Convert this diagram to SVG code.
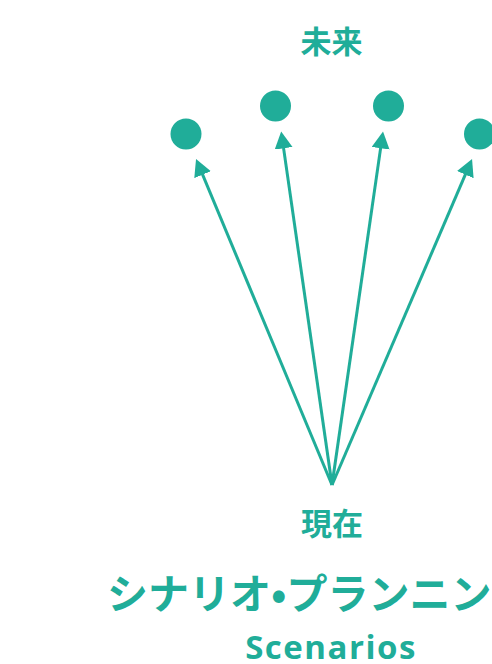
<svg xmlns="http://www.w3.org/2000/svg" width="492" height="664" viewBox="0 0 492 664">
  <style>
    .node { fill: #20ad99; }
    .edge { stroke: #20ad99; stroke-width: 3; fill: none; }
    .jp { fill: #20ad99; font-family: "Noto Sans CJK JP", "Noto Sans CJK SC", sans-serif; }
    .en { fill: #20ad99; font-family: "Open Sans", "Liberation Sans", sans-serif; font-weight: 700; }
  </style>
  <defs>
    <marker id="arrow" markerUnits="userSpaceOnUse" markerWidth="18" markerHeight="19" refX="7" refY="9" orient="auto">
      <path d="M0,0 L17,9 L0,18 Z" fill="#20ad99"/>
    </marker>
  </defs>
  <rect width="492" height="664" fill="#ffffff"/>
  <g id="connectors">
    <line class="edge" x1="332" y1="485" x2="199.9" y2="168.2" marker-end="url(#arrow)"/>
    <line class="edge" x1="332" y1="485" x2="282.6" y2="141.4" marker-end="url(#arrow)"/>
    <line class="edge" x1="332" y1="485" x2="381.6" y2="141.4" marker-end="url(#arrow)"/>
    <line class="edge" x1="332" y1="485" x2="468.1" y2="168.2" marker-end="url(#arrow)"/>
  </g>
  <g id="future1"><circle class="node" cx="186" cy="134" r="15.5"/></g>
  <g id="future2"><circle class="node" cx="275.5" cy="106" r="15.5"/></g>
  <g id="future3"><circle class="node" cx="388.5" cy="106" r="15.5"/></g>
  <g id="future4"><circle class="node" cx="479.5" cy="134" r="15.5"/></g>
  <g id="label-future"><text class="jp" x="331.5" y="53" font-size="31" font-weight="700" text-anchor="middle">未来</text></g>
  <g id="label-present"><text class="jp" x="332" y="535" font-size="31" font-weight="700" text-anchor="middle">現在</text></g>
  <g id="title">
    <text class="jp" x="107" y="609" font-size="41" font-weight="700">シナリオ•プランニン</text>
    <text class="en" x="331" y="659" font-size="33" letter-spacing="1.5" text-anchor="middle">Scenarios</text>
  </g>
</svg>
